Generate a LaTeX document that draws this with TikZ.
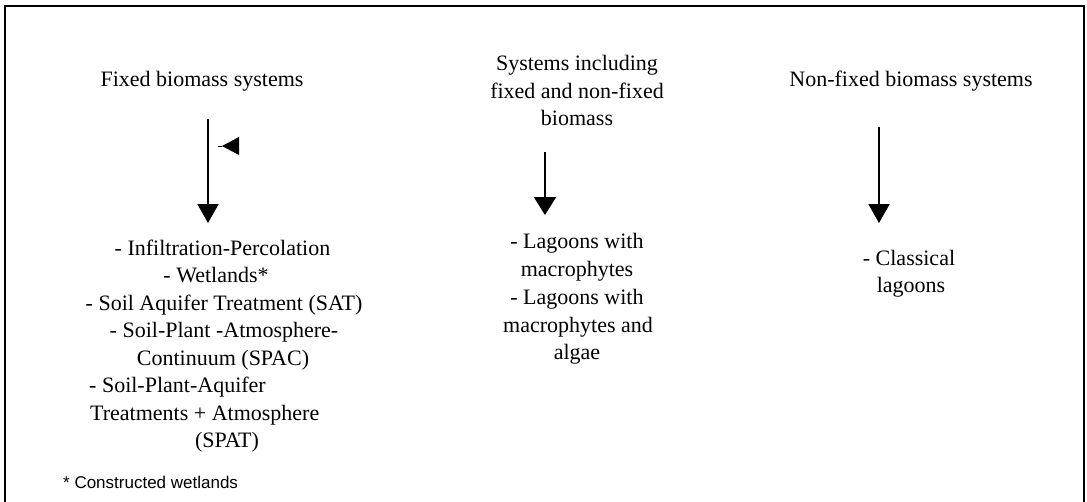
\documentclass[tikz,border=0pt]{standalone}
\usepackage{fontspec}
\setmainfont{Liberation Serif}
\newfontfamily\notefont{Liberation Sans}
\usetikzlibrary{arrows.meta}
\begin{document}
\begin{tikzpicture}[x=1pt,y=-1pt,
  txt/.style={inner sep=0pt,anchor=base,font=\fontsize{22}{27}\selectfont},
  txtl/.style={txt,anchor=base west},
  arr/.style={line width=2pt,-{Triangle[width=21pt,length=19pt]}},
  frame/.style={line width=2.4pt}]
\useasboundingbox (0,0) rectangle (1087,501);
% frame (open at the bottom)
\draw[frame] (5,520) -- (5,6) -- (1084,6) -- (1084,520);
% titles
\node[txt] (fixed) at (202,86) {Fixed biomass systems};
\node[txt] (mixA) at (577,70) {Systems including};
\node[txt] (mixB) at (577,98) {fixed and non-fixed};
\node[txt] (mixC) at (577,125) {biomass};
\node[txt] (nonfixed) at (911,86) {Non-fixed biomass systems};
% left list
\node[txt] (l1) at (222.5,255) {- Infiltration-Percolation};
\node[txt] (l2) at (216,282.5) {- Wetlands*};
\node[txt] (l3) at (224,310) {- Soil Aquifer Treatment (SAT)};
\node[txt] (l4) at (224,337.5) {- Soil-Plant -Atmosphere-};
\node[txt] (l5) at (223,365) {Continuum (SPAC)};
\node[txtl] (l6) at (89,392.5) {- Soil-Plant-Aquifer};
\node[txtl] (l7) at (90,420) {Treatments + Atmosphere};
\node[txt] (l8) at (227,447.5) {(SPAT)};
\node[inner sep=0pt,anchor=base west,font=\notefont\fontsize{17}{20}\selectfont] (note) at (63,488) {* Constructed wetlands};
% middle list
\node[txt] (m1) at (577,248) {- Lagoons with};
\node[txt] (m2) at (577,276) {macrophytes};
\node[txt] (m3) at (577,304) {- Lagoons with};
\node[txt] (m4) at (578,332) {macrophytes and};
\node[txt] (m5) at (577,359) {algae};
% right list
\node[txt] (r1) at (909,265) {- Classical};
\node[txt] (r2) at (911,292) {lagoons};
% arrows
\coordinate (a1s) at (208,119);
\coordinate (a1e) at (208,223);
\coordinate (a2s) at (545,152);
\coordinate (a2e) at (545,215);
\coordinate (a3s) at (879,127);
\coordinate (a3e) at (879,223);
\draw[arr] (a1s) -- (a1e);
\draw[arr,-{Triangle[width=22pt,length=18pt]}] (a2s) -- (a2e);
\draw[arr] (a3s) -- (a3e);
% small stray arrowhead
\coordinate (s0) at (218,146);
\coordinate (s1) at (222,146);
\draw[line width=1pt] (s0) -- (s1);
\fill (s1) -- (239,137) -- (239,155) -- cycle;
\end{tikzpicture}
\end{document}
